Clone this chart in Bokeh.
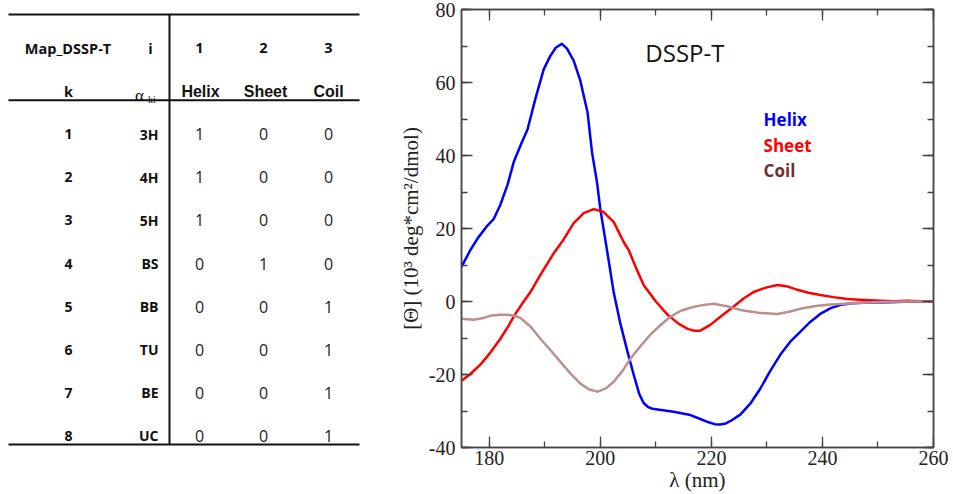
from bokeh.plotting import figure
from bokeh.models import (Range1d, LinearAxis, SingleIntervalTicker, Label,
                          PrintfTickFormatter, CustomJSTickFormatter)
from bokeh.layouts import row
from bokeh.embed import file_html
from bokeh.resources import INLINE
from bokeh.core.properties import value

# ---------------- table data ----------------
table_title = "Map_DSSP-T"
class_index = ["1", "2", "3"]
class_names = ["Helix", "Sheet", "Coil"]
k_labels = ["1", "2", "3", "4", "5", "6", "7", "8"]
dssp_codes = ["3H", "4H", "5H", "BS", "BB", "TU", "BE", "UC"]
helix_map = [1, 1, 1, 0, 0, 0, 0, 0]
sheet_map = [0, 0, 0, 1, 0, 0, 0, 0]
coil_map = [0, 0, 0, 0, 1, 1, 1, 1]

# ---------------- chart data ----------------
helix_wl = [175, 176.6, 178, 179.5, 180.8, 182, 183.3, 184.4, 185.7, 186.9, 188.3, 189.8,
            191.0, 192.0, 193.1, 194.0, 195.2, 196.4, 197.7, 198.5, 199.4, 200.0, 201.2, 202.4,
            203.6, 204.9, 206.0, 207.0, 207.8, 208.6, 209.4, 210.3, 213.2, 216, 218, 219.5,
            220.6, 221.6, 222.6, 223.6, 225.2, 227, 228.8, 230.6, 232.4, 234.2, 236, 237.8,
            239.6, 241.5, 243.3, 245.5, 248.1, 252, 256, 260]
helix_theta = [9.5, 14.1, 17.5, 20.5, 22.6, 26.5, 32, 38.2, 43, 47.2, 55.5, 63.6,
               67.3, 69.6, 70.6, 69.3, 66, 60.5, 51.8, 40.9, 32.7, 25.3, 14.1, 2.6,
               -6, -13.8, -20, -25.3, -27.8, -28.9, -29.4, -29.6, -30.2, -31, -32.2, -33.1,
               -33.6, -33.7, -33.4, -32.6, -31, -28, -23.9, -19, -14.6, -11, -8.3, -5.6,
               -3.4, -1.8, -0.9, -0.5, -0.3, -0.2, 0, 0]

sheet_wl = [175, 176.5, 178.4, 180.2, 182, 183.4, 184.7, 186.2, 187.5, 189.2, 191.6, 193.4,
            195.2, 197, 198.8, 200.5, 202.4, 204.2, 205.1, 206.5, 207.8, 210, 212.1, 214,
            215.7, 217, 218, 219.8, 221.8, 223.9, 225.8, 227.6, 229.8, 231.9, 233.5, 235.5,
            237.5, 239.6, 242, 244.5, 247.5, 250.5, 253, 255.3, 257.5, 260]
sheet_theta = [-21.7, -20, -17.3, -14, -10.2, -6.8, -3.4, 0, 2.8, 7.3, 13.2, 17,
               21.5, 24.2, 25.3, 24.6, 21.8, 16.3, 14.1, 9, 4.5, 0, -3.6, -6,
               -7.5, -8.0, -8.0, -6.4, -4, -1.5, 0.8, 2.6, 3.8, 4.5, 4.2, 3.2,
               2.4, 1.8, 1.2, 0.7, 0.4, 0.2, 0.1, 0.2, 0.1, 0]

coil_wl = [175, 177.2, 179, 180.2, 182, 183.3, 184.5, 185.6, 187.5, 189.2, 191, 192.8,
           194.6, 196.4, 198, 199.5, 201, 202.4, 204, 205.4, 207.2, 209, 210.8, 212.6,
           214.4, 216.2, 218.3, 220.4, 222.8, 225.2, 228.5, 231.9, 234, 236, 238.5, 240.9,
           244, 248, 252, 256, 260]
coil_theta = [-4.7, -5.0, -4.5, -3.9, -3.6, -3.6, -3.9, -4.5, -7, -10.2, -13.3, -16.5,
              -19.7, -22.5, -24.1, -24.7, -23.8, -22, -19, -15.7, -12.3, -9.1, -6.5, -4.2,
              -2.6, -1.7, -1.0, -0.6, -1.3, -2.3, -3.1, -3.4, -2.8, -2.0, -1.3, -0.9,
              -0.6, -0.3, -0.1, 0, 0]

series_colors = ["#0000ff", "#ff0000", "#bc8f8f"]
legend_colors = ["#0000ff", "#ff0000", "#6e2f2f"]

BORDER_TOP, BORDER_BOTTOM = 9, 46

# ================= table figure =================
# the row aligns both frames, so the table frame spans the same rows of pixels
TW, TH = 370, 494
t = figure(width=TW, height=TH, x_range=Range1d(0, TW),
           y_range=Range1d(TH - BORDER_BOTTOM, BORDER_TOP),
           output_backend="svg", toolbar_location=None, min_border=0,
           min_border_top=BORDER_TOP, min_border_bottom=BORDER_BOTTOM,
           x_axis_location=None, y_axis_location=None)
t.grid.visible = False
t.outline_line_color = None
t.background_fill_color = "white"

x_left, x_right, x_div = 8, 359, 169
y_top, y_head, y_bot = 14, 100, 445
t.segment(x0=[x_left, x_left, x_left, x_div], y0=[y_top, y_head, y_bot, y_top],
          x1=[x_right, x_right, x_right, x_div], y1=[y_top, y_head, y_bot, y_bot],
          line_color="#111111", line_width=2)

col_k, col_code_right = 68, 158
col_vals = [199, 263, 328]
row1_y, row2_y = 48, 91

t.text(x=[67.5, 150] + col_vals, y=[row1_y] * 5, text=[table_title, "i"] + class_index,
       text_font=value("Open Sans"), text_font_style="bold", text_font_size="14.5px",
       text_align="center", text_baseline="middle", text_color="#111111")
t.text(x=[col_k], y=[row2_y], text=["k"], text_font=value("Open Sans"), text_font_style="bold",
       text_font_size="14.5px", text_align="center", text_baseline="middle", text_color="#111111")
t.text(x=[200, 265, 328], y=[row2_y] * 3, text=class_names, text_font=value("Liberation Sans"),
       text_font_style="bold", text_font_size="16px", text_align="center",
       text_baseline="middle", text_color="#111111")
t.text(x=[139], y=[95], text=["α"], text_font=value("Liberation Serif"),
       text_font_size="17px", text_align="center", text_baseline="middle", text_color="#111111")
t.text(x=[151.5], y=[99], text=["ki"], text_font=value("Liberation Serif"),
       text_font_size="10px", text_align="center", text_baseline="middle", text_color="#111111")

row0, row_step = 134, 43.2
ys = [row0 + i * row_step for i in range(len(k_labels))]
t.text(x=[col_k] * len(k_labels), y=ys, text=k_labels, text_font=value("Open Sans"),
       text_font_style="bold", text_font_size="14px", text_align="center",
       text_baseline="middle", text_color="#111111")
t.text(x=[col_code_right] * len(dssp_codes), y=ys, text=dssp_codes, text_font=value("Open Sans"),
       text_font_style="bold", text_font_size="14px", text_align="right",
       text_baseline="middle", text_color="#111111")
for cx, vals in zip(col_vals, [helix_map, sheet_map, coil_map]):
    t.text(x=[cx] * len(vals), y=ys, text=[str(v) for v in vals], text_font=value("Open Sans"),
           text_font_size="16px", text_align="center", text_baseline="middle",
           text_color="#222222")

# ================= chart figure =================
p = figure(width=583, height=494, x_range=Range1d(175, 260), y_range=Range1d(-40, 80),
           output_backend="svg", toolbar_location=None,
           min_border_left=91, min_border_right=20, min_border_top=BORDER_TOP,
           min_border_bottom=BORDER_BOTTOM)
p.grid.visible = False
p.background_fill_color = "white"
p.outline_line_color = "#555555"
p.outline_line_width = 1.5

def style_axis(ax, labels=True):
    ax.ticker = SingleIntervalTicker(interval=20, num_minor_ticks=2)
    ax.axis_line_color = "#444444"
    ax.axis_line_width = 1.5
    ax.major_tick_line_color = "#444444"
    ax.minor_tick_line_color = "#444444"
    ax.major_tick_line_width = 1.3
    ax.minor_tick_line_width = 1.3
    ax.major_tick_in = 11
    ax.major_tick_out = 0
    ax.minor_tick_in = 6
    ax.minor_tick_out = 0
    if labels:
        ax.formatter = PrintfTickFormatter(format="%d")
        ax.major_label_text_font = "Liberation Serif"
        ax.major_label_text_font_size = "20px"
        ax.major_label_text_color = "#222222"
        ax.axis_label_text_font = "Liberation Serif"
        ax.axis_label_text_font_size = "21px"
        ax.axis_label_text_font_style = "normal"
        ax.axis_label_text_color = "#222222"
    else:
        ax.formatter = CustomJSTickFormatter(code="return ''")
        ax.major_label_text_font_size = "1px"
        ax.major_label_standoff = 0
        ax.axis_label = None

style_axis(p.xaxis[0])
style_axis(p.yaxis[0])
p.xaxis.axis_label = "λ (nm)"
p.xaxis.major_label_standoff = 3
p.xaxis.axis_label_standoff = 0
p.yaxis.axis_label = "[Θ] (10³ deg*cm²/dmol)"
p.yaxis.major_label_standoff = 6
p.yaxis.axis_label_standoff = 3

top_ax = LinearAxis()
style_axis(top_ax, labels=False)
p.add_layout(top_ax, "above")
right_ax = LinearAxis()
style_axis(right_ax, labels=False)
p.add_layout(right_ax, "right")

for wl, th, c in zip([helix_wl, sheet_wl, coil_wl], [helix_theta, sheet_theta, coil_theta],
                     series_colors):
    p.line(wl, th, line_color=c, line_width=2.5, line_join="round")

p.add_layout(Label(x=208.1, y=68.2, text="DSSP-T", text_font="Open Sans",
                   text_font_size="24px", text_baseline="middle", text_align="left",
                   text_color="#111111"))
for name, c, ly in zip(class_names, legend_colors, [49.9, 42.8, 36.0]):
    p.add_layout(Label(x=229.4, y=ly, text=name, text_font="Open Sans", text_font_style="bold",
                       text_font_size="17px", text_baseline="middle", text_align="left",
                       text_color=c))

layout = row(t, p)
open("out.html", "w").write(file_html(layout, INLINE))
